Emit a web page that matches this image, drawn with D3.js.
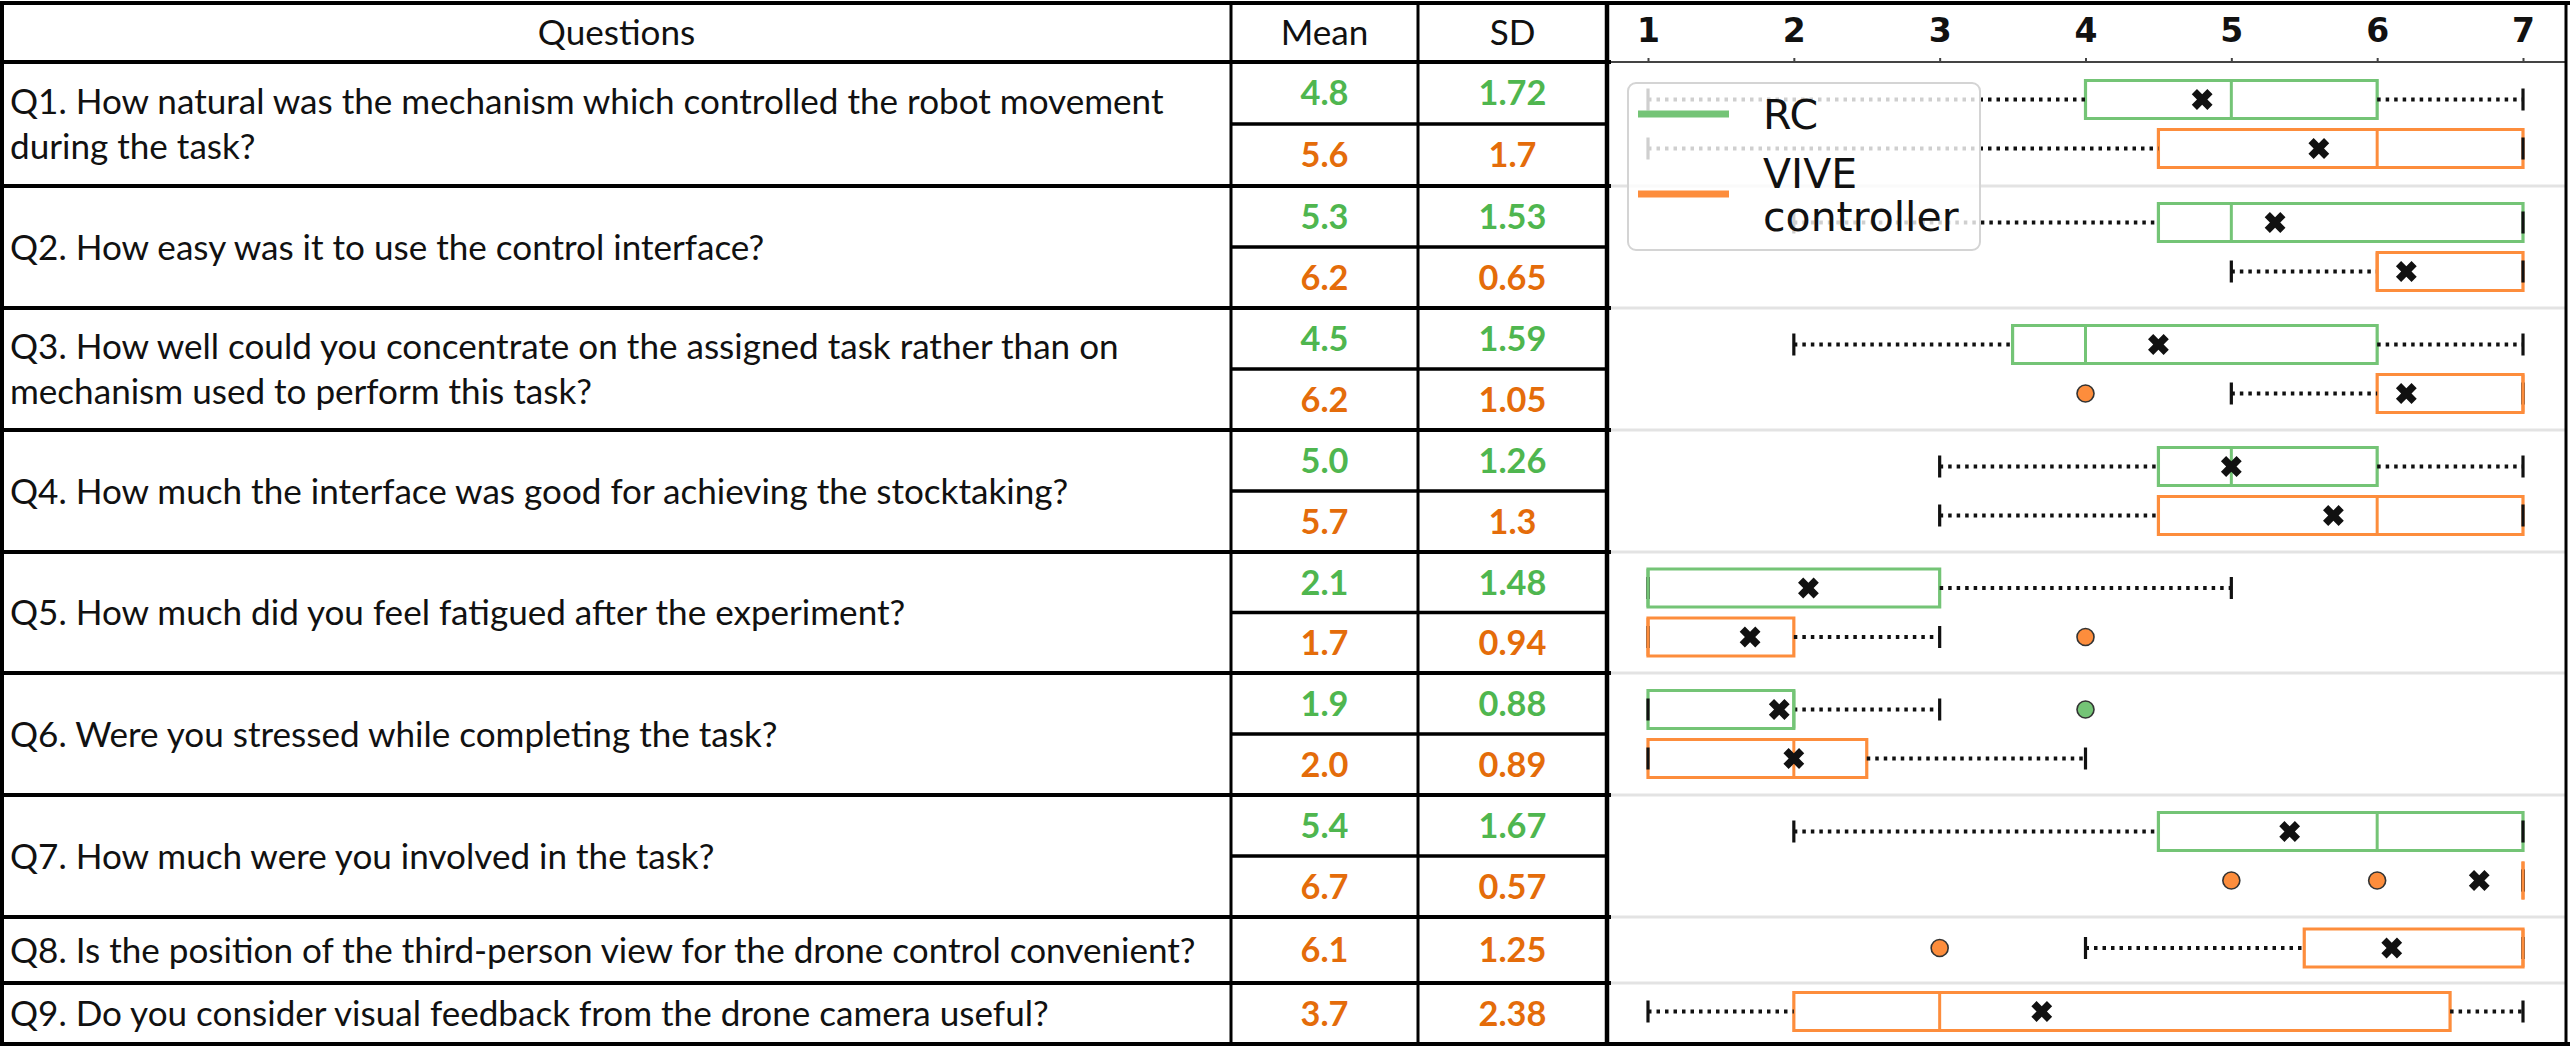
<!DOCTYPE html>
<html><head><meta charset="utf-8">
<script src="https://cdn.jsdelivr.net/npm/d3@7"></script>
<style>body{margin:0;background:#fff}svg{display:block}</style>
</head><body><svg id="c" width="2570" height="1059"></svg>
<script>
// ---------------- DATA ----------------
const questions = [
  "Q1. How natural was the mechanism which controlled the robot movement\nduring the task?",
  "Q2. How easy was it to use the control interface?",
  "Q3. How well could you concentrate on the assigned task rather than on\nmechanism used to perform this task?",
  "Q4. How much the interface was good for achieving the stocktaking?",
  "Q5. How much did you feel fatigued after the experiment?",
  "Q6. Were you stressed while completing the task?",
  "Q7. How much were you involved in the task?",
  "Q8. Is the position of the third-person view for the drone control convenient?",
  "Q9. Do you consider visual feedback from the drone camera useful?"
];
const headers = ["Questions", "Mean", "SD"];
const seriesNames = ["RC", "VIVE\ncontroller"];
const tickValues = [1, 2, 3, 4, 5, 6, 7];

const meanRC   = [4.8, 5.3, 4.5, 5.0, 2.1, 1.9, 5.4, null, null];
const sdRC     = [1.72, 1.53, 1.59, 1.26, 1.48, 0.88, 1.67, null, null];
const meanVIVE = [5.6, 6.2, 6.2, 5.7, 1.7, 2.0, 6.7, 6.1, 3.7];
const sdVIVE   = [1.7, 0.65, 1.05, 1.3, 0.94, 0.89, 0.57, 1.25, 2.38];

// box statistics (whisker low, Q1, median, Q3, whisker high, outliers)
const rcLow  = [1, 2, 2, 3, 1, 1, 2, null, null];
const rcQ1   = [4, 4.5, 3.5, 4.5, 1, 1, 4.5, null, null];
const rcMed  = [5, 5, 4, 5, 1, 2, 6, null, null];
const rcQ3   = [6, 7, 6, 6, 3, 2, 7, null, null];
const rcHigh = [7, 7, 7, 7, 5, 3, 7, null, null];
const rcOut  = [[], [], [], [], [], [4], [], [], []];

const vLow  = [1, 5, 5, 3, 1, 1, 7, 4, 1];
const vQ1   = [4.5, 6, 6, 4.5, 1, 1, 7, 5.5, 2];
const vMed  = [6, 6, 7, 6, 1, 2, 7, 7, 3];
const vQ3   = [7, 7, 7, 7, 2, 2.5, 7, 7, 6.5];
const vHigh = [7, 7, 7, 7, 3, 4, 7, 7, 7];
const vOut  = [[], [], [4], [], [4], [], [5, 6], [3], []];

// ---------------- LAYOUT / STYLE ----------------
const W = 2570, H = 1059;
const topY = 3, headerBottom = 62;
const groupH = [124, 122, 122, 122, 121, 122, 122, 66, 61];
const colX = [2, 1231, 1418, 1607, 2566];
const GREEN = "#74c476", ORANGE = "#fd8d3c";
const GREEN_TXT = "#4fb64f", ORANGE_TXT = "#e46c0a";
const TXT_FONT = "Lato, 'Open Sans', 'Noto Sans', sans-serif";
const PLOT_FONT = "'DejaVu Sans', sans-serif";

const svg = d3.select("#c");
svg.append("rect").attr("width", W).attr("height", H).attr("fill", "#fff");

const tops = [];
let acc = headerBottom;
groupH.forEach(h => { tops.push(acc); acc += h; });
const bottomY = acc;

const groups = questions.map((q, i) => ({
  i, q, top: tops[i], h: groupH[i],
  hasRC: meanRC[i] != null
}));

// ---------------- TEXT FIT ----------------
const measure = svg.append("text").attr("font-family", TXT_FONT).attr("font-size", 36)
  .text(questions[0].split("\n")[0]);
const w0 = measure.node().getComputedTextLength();
measure.remove();
const qFont = Math.min(40, 36 * 1154 / w0);

const valMeasure = svg.append("text").attr("font-family", TXT_FONT).attr("font-weight", 700)
  .attr("font-size", 36).text("4.8");
const vw0 = valMeasure.node().getComputedTextLength();
valMeasure.remove();
const vFont = Math.min(40, 36 * 48 / vw0);

// ---------------- TABLE ----------------
const tbl = svg.append("g");
const hdrCenters = [(colX[0] + colX[1]) / 2, (colX[1] + colX[2]) / 2, (colX[2] + colX[3]) / 2];
tbl.selectAll("text.hdr").data(headers).join("text").attr("class", "hdr")
  .attr("x", (d, i) => hdrCenters[i]).attr("y", (topY + headerBottom) / 2 + qFont * 0.36)
  .attr("text-anchor", "middle").attr("font-family", TXT_FONT).attr("font-size", qFont)
  .attr("fill", "#111").text(d => d);

groups.forEach(g => {
  const lines = g.q.split("\n");
  const cy = g.top + g.h / 2;
  const gap = 45;
  lines.forEach((ln, k) => {
    const ly = cy + (k - (lines.length - 1) / 2) * gap;
    tbl.append("text").attr("x", 10).attr("y", ly + qFont * 0.36)
      .attr("font-family", TXT_FONT).attr("font-size", qFont).attr("fill", "#111").text(ln);
  });
});

const cells = [];
groups.forEach(g => {
  if (g.hasRC) {
    const mid = g.top + g.h / 2;
    cells.push({ y: (g.top + mid) / 2, mean: meanRC[g.i], sd: sdRC[g.i], c: GREEN_TXT });
    cells.push({ y: (mid + g.top + g.h) / 2, mean: meanVIVE[g.i], sd: sdVIVE[g.i], c: ORANGE_TXT });
  } else {
    cells.push({ y: g.top + g.h / 2, mean: meanVIVE[g.i], sd: sdVIVE[g.i], c: ORANGE_TXT });
  }
});
const valG = tbl.append("g").attr("font-family", TXT_FONT).attr("font-weight", 700)
  .attr("font-size", vFont).attr("text-anchor", "middle");
valG.selectAll("text.m").data(cells).join("text").attr("class", "m")
  .attr("x", hdrCenters[1]).attr("y", d => d.y + vFont * 0.36).attr("fill", d => d.c)
  .text(d => d.mean.toFixed(1));
valG.selectAll("text.s").data(cells).join("text").attr("class", "s")
  .attr("x", hdrCenters[2]).attr("y", d => d.y + vFont * 0.36).attr("fill", d => d.c)
  .text(d => String(d.sd));

// ---------------- CHART ----------------
const x = d3.scaleLinear().domain([1, 7]).range([1648, 2523]);
const chart = svg.append("g");

const sepYs = tops.slice(1);
chart.selectAll("line.sep").data(sepYs).join("line").attr("class", "sep")
  .attr("x1", colX[3] + 2).attr("x2", colX[4] - 1).attr("y1", d => d).attr("y2", d => d)
  .attr("stroke", "#e3e3e3").attr("stroke-width", 3);

chart.append("line").attr("x1", colX[3]).attr("x2", colX[4]).attr("y1", headerBottom).attr("y2", headerBottom)
  .attr("stroke", "#444").attr("stroke-width", 2);
const axis = d3.axisTop(x).tickValues(tickValues).tickSize(4).tickSizeOuter(0).tickPadding(16)
  .tickFormat(d3.format("d"));
const ag = chart.append("g").attr("transform", `translate(0,${headerBottom})`).call(axis);
ag.select(".domain").remove();
ag.selectAll(".tick line").attr("stroke", "#444").attr("stroke-width", 2);
ag.selectAll(".tick text").attr("font-family", PLOT_FONT).attr("font-weight", 700)
  .attr("font-size", 33).attr("fill", "#111");

const boxes = [];
groups.forEach(g => {
  const c = g.top + g.h / 2;
  if (g.hasRC) {
    boxes.push({ cy: c - 24.5, lo: rcLow[g.i], q1: rcQ1[g.i], med: rcMed[g.i], q3: rcQ3[g.i],
      hi: rcHigh[g.i], out: rcOut[g.i], mean: meanRC[g.i], col: GREEN });
    boxes.push({ cy: c + 24.5, lo: vLow[g.i], q1: vQ1[g.i], med: vMed[g.i], q3: vQ3[g.i],
      hi: vHigh[g.i], out: vOut[g.i], mean: meanVIVE[g.i], col: ORANGE });
  } else {
    boxes.push({ cy: c - 2, lo: vLow[g.i], q1: vQ1[g.i], med: vMed[g.i], q3: vQ3[g.i],
      hi: vHigh[g.i], out: vOut[g.i], mean: meanVIVE[g.i], col: ORANGE });
  }
});
const BH = 38, CAP = 11;
const bg = chart.append("g");
boxes.forEach(b => {
  const g = bg.append("g");
  g.append("path")
    .attr("d", `M${x(b.q1)},${b.cy - BH / 2}H${x(b.q3)}V${b.cy + BH / 2}H${x(b.q1)}Z`)
    .attr("fill", "#fff").attr("stroke", b.col).attr("stroke-width", 3.2);
  [[b.lo, b.q1], [b.q3, b.hi]].forEach(([a, z]) => {
    if (a !== z) g.append("line").attr("x1", x(a)).attr("x2", x(z)).attr("y1", b.cy).attr("y2", b.cy)
      .attr("stroke", "#111").attr("stroke-width", 4).attr("stroke-dasharray", "3.5,5");
  });
  [b.lo, b.hi].forEach(v => {
    g.append("line").attr("x1", x(v)).attr("x2", x(v)).attr("y1", b.cy - CAP).attr("y2", b.cy + CAP)
      .attr("stroke", "#111").attr("stroke-width", 3.2);
  });
  g.append("line").attr("x1", x(b.med)).attr("x2", x(b.med)).attr("y1", b.cy - BH / 2).attr("y2", b.cy + BH / 2)
    .attr("stroke", b.col).attr("stroke-width", 3);
  g.selectAll("circle").data(b.out).join("circle")
    .attr("cx", d => x(d)).attr("cy", b.cy).attr("r", 8.5)
    .attr("fill", b.col).attr("stroke", "#333").attr("stroke-width", 1.6);
  g.append("path").attr("d", d3.symbol(d3.symbolCross, 270)())
    .attr("transform", `translate(${x(b.mean)},${b.cy}) rotate(45)`).attr("fill", "#111");
});

// legend
const lg = chart.append("g");
lg.append("rect").attr("x", 1628).attr("y", 83).attr("width", 352).attr("height", 167).attr("rx", 8)
  .attr("fill", "#fff").attr("fill-opacity", 0.8).attr("stroke", "#d4d4d4").attr("stroke-width", 2);
const legItems = [{ name: seriesNames[0], col: GREEN, y: 114 }, { name: seriesNames[1], col: ORANGE, y: 194 }];
legItems.forEach(it => {
  lg.append("line").attr("x1", 1638).attr("x2", 1729).attr("y1", it.y).attr("y2", it.y)
    .attr("stroke", it.col).attr("stroke-width", 7);
  const lines = it.name.split("\n");
  lines.forEach((ln, k) => {
    lg.append("text").attr("x", 1763)
      .attr("y", it.y + 15 + (k - (lines.length - 1) / 2) * 43)
      .attr("font-family", PLOT_FONT).attr("font-size", 41).attr("fill", "#111").text(ln);
  });
});

// ---------------- TABLE LINES ----------------
const ln = svg.append("g").attr("stroke", "#000");
ln.append("line").attr("x1", 0).attr("x2", W).attr("y1", topY).attr("y2", topY).attr("stroke-width", 4);
ln.append("line").attr("x1", 0).attr("x2", W).attr("y1", bottomY).attr("y2", bottomY).attr("stroke-width", 4);
[headerBottom].concat(sepYs).forEach(y => {
  ln.append("line").attr("x1", 0).attr("x2", colX[3] + 4).attr("y1", y).attr("y2", y).attr("stroke-width", 4);
});
groups.filter(g => g.hasRC).forEach(g => {
  const y = g.top + g.h / 2;
  ln.append("line").attr("x1", colX[1]).attr("x2", colX[3]).attr("y1", y).attr("y2", y).attr("stroke-width", 3.5);
});
const vw = [4, 3, 3, 4.5, 3];
colX.forEach((cx, k) => {
  ln.append("line").attr("x1", cx).attr("x2", cx).attr("y1", topY).attr("y2", bottomY).attr("stroke-width", vw[k]);
});
</script></body></html>
